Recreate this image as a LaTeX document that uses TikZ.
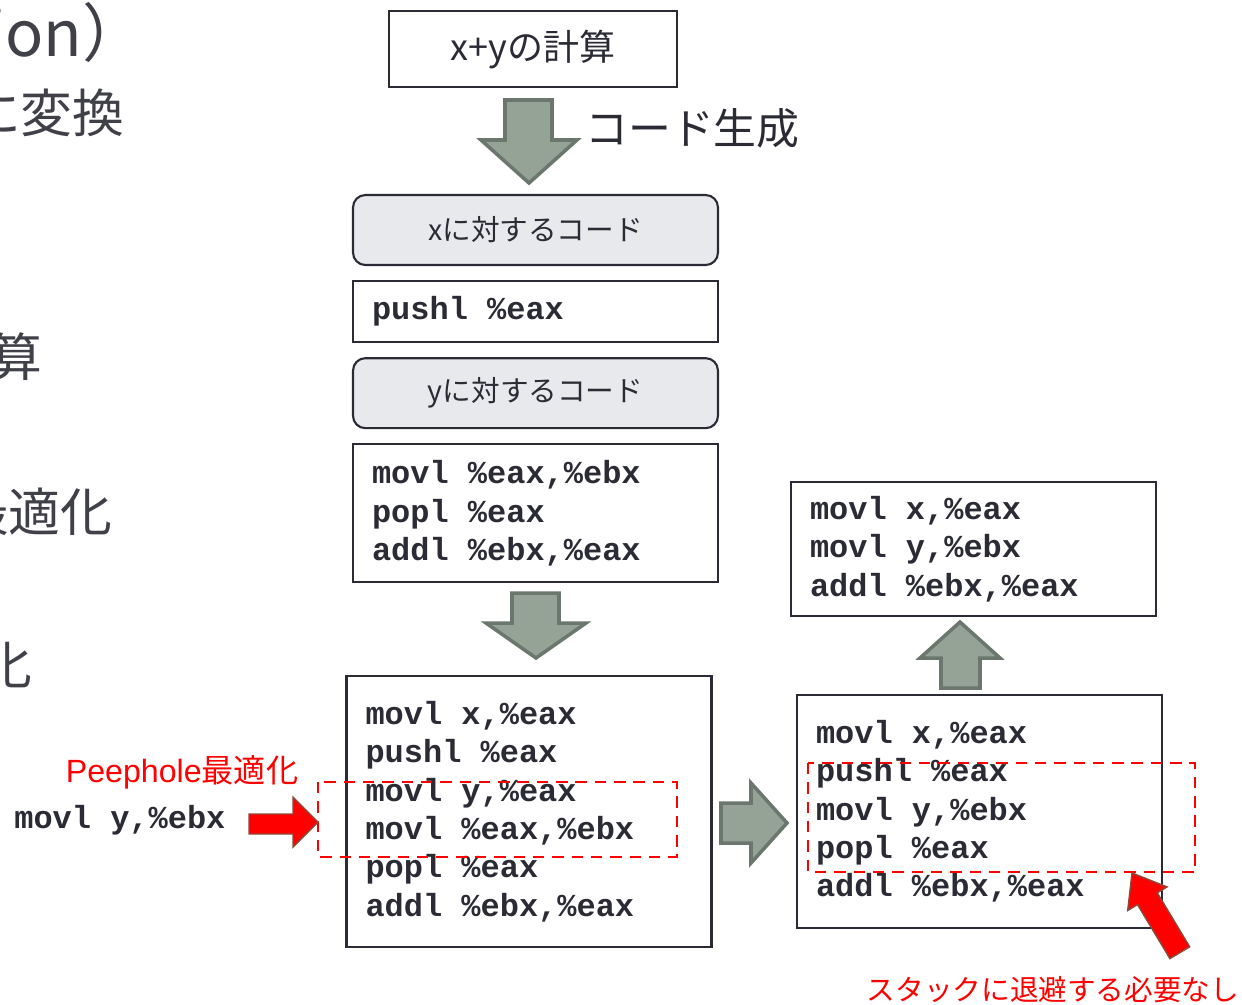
\documentclass[tikz,border=0pt]{standalone}
\usepackage{fontspec}
\setmainfont{Noto Sans CJK JP}
\newfontfamily\arialfam{Liberation Sans}
\newfontfamily\codefam{Liberation Mono}
\usetikzlibrary{positioning}

\definecolor{ink}{HTML}{2B2B35}
\definecolor{boxgray}{HTML}{E8E9EC}
\definecolor{arrowfill}{HTML}{94A396}
\definecolor{arrowedge}{HTML}{6B776D}
\definecolor{rededge}{HTML}{8B4A3A}

\newcommand{\codefont}{\codefam\bfseries\fontsize{18.2}{21.8}\selectfont}
\newcommand{\monospaces}{\spaceskip=0.6em\relax\xspaceskip=0.6em\relax}

\begin{document}
\begin{tikzpicture}[x=0.02cm, y=-0.02cm,
    titlebox/.style={draw=ink, line width=1.2pt, minimum width=5.76cm, minimum height=1.52cm,
        text=ink, font=\fontsize{20.5}{24}\selectfont},
    graybox/.style={draw=ink, fill=boxgray, line width=1.2pt, rounded corners=7pt,
        minimum width=7.3cm, minimum height=1.4cm, text=ink, font=\fontsize{16.3}{20}\selectfont},
    codebox/.style={draw=ink, line width=1.2pt, minimum width=7.3cm, inner xsep=0.38cm, inner ysep=0pt,
        text width=6.54cm, align=left, text=ink, font=\codefont,
        execute at begin node=\monospaces},
    slide/.style={anchor=east, inner sep=0pt, text=ink!90, font=\fontsize{29.5}{34}\selectfont},
    blockarrow/.style={fill=arrowfill, draw=arrowedge, line width=2pt, line join=miter},
    redarrow/.style={fill=red, draw=rededge, line width=0.8pt},
    reddash/.style={draw=red, line width=1.1pt, dash pattern=on 6.5pt off 4.5pt},
    redlabel/.style={text=red, inner sep=0pt, font=\fontsize{16.3}{20}\selectfont}]
  \useasboundingbox (0,0) rectangle (1242,1005);
  \clip (0,0) rectangle (1242,1005);

  % cut-off slide text on the left
  \node[slide, font=\fontsize{36}{40}\selectfont] (title) at (146,32) {ion）};
  \node[slide] (conv) at (125,113) {に変換};
  \node[slide] (calc) at (43,357) {算};
  \node[slide] (opt) at (113,512) {最適化};
  \node[slide] (opt2) at (33,665) {化};

  % code generation
  \node[titlebox] (sum) at (533,49) {x+yの計算};
  \node[anchor=west, inner sep=0pt, text=ink, font=\fontsize{24.4}{28}\selectfont] (gen) at (585,128) {コード生成};
  \draw[blockarrow] (505,100) -- (552,100) -- (552,140) -- (577,140) -- (529,183)
        -- (481,140) -- (505,140) -- cycle;

  \node[graybox] (xcode) at (535.5,230) {xに対するコード};
  \node[codebox, minimum height=1.22cm, below=0.28cm of xcode] (push) {pushl \%eax};
  \node[graybox, below=0.28cm of push] (ycode) {yに対するコード};
  \node[codebox, minimum height=2.76cm, below=0.28cm of ycode] (seq)
        {movl \%eax,\%ebx\\popl \%eax\\addl \%ebx,\%eax};

  \draw[blockarrow] (512,593) -- (559,593) -- (559,623) -- (586,623) -- (536,658)
        -- (486,623) -- (512,623) -- cycle;

  % generated code
  \node[codebox, minimum height=5.42cm] (gencode) at (529,811.5)
        {movl x,\%eax\\pushl \%eax\\movl y,\%eax\\movl \%eax,\%ebx\\popl \%eax\\addl \%ebx,\%eax};
  \draw[reddash] (318,782) rectangle (677,857);
  \node[redlabel, font=\fontsize{18.3}{22}\selectfont] (peep) at (182,772) {{\arialfam Peephole}最適化};
  \node[anchor=west, inner sep=0pt, text=ink, font=\codefont] (movy) at (14,820) {movl y,\%ebx};
  \draw[redarrow] (249,814) -- (293,814) -- (293,797) -- (318,822) -- (293,847)
        -- (293,834) -- (249,834) -- cycle;

  \draw[blockarrow] (721,803) -- (751,803) -- (751,783) -- (787,823) -- (751,863)
        -- (751,843) -- (721,843) -- cycle;

  % after peephole
  \node[codebox, minimum height=4.66cm] (peepcode) at (979.5,811.5)
        {movl x,\%eax\\pushl \%eax\\movl y,\%ebx\\popl \%eax\\addl \%ebx,\%eax};
  \draw[reddash] (808,763) rectangle (1195,872);

  \draw[blockarrow] (941,688) -- (941,658) -- (920,658) -- (960,622) -- (1000,658)
        -- (980,658) -- (980,688) -- cycle;

  \node[codebox, minimum height=2.68cm] (final) at (973.5,549)
        {movl x,\%eax\\movl y,\%ebx\\addl \%ebx,\%eax};

  \draw[redarrow] (1132,873) -- (1167.1,886.9) -- (1157.3,892.8) -- (1189.7,946.8)
        -- (1169.9,958.6) -- (1137.5,904.6) -- (1127.7,910.5) -- cycle;
  \node[redlabel] (nostack) at (1053,990) {スタックに退避する必要なし};
\end{tikzpicture}
\end{document}
